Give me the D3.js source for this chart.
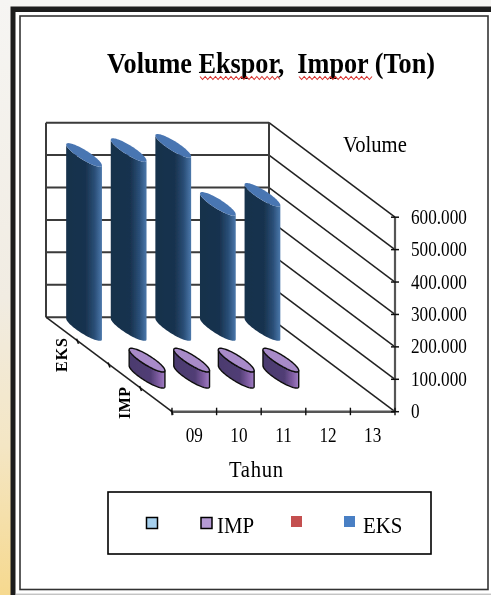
<!DOCTYPE html>
<html><head><meta charset="utf-8">
<script src="https://cdn.jsdelivr.net/npm/d3@7"></script>
<style>html,body{margin:0;padding:0;background:#fff;overflow:hidden}svg{display:block}text{font-family:"Liberation Serif",serif;fill:#000}</style>
</head><body><svg id="c" width="491" height="595"></svg>
<script>
const years=["09","10","11","12","13"];
const seriesRows=["EKS","","IMP",""];
const eksValues=[537000,552000,565000,386000,414000];
const impValues=[50000,50000,50000,50000];
const volumeTicks=[0,100000,200000,300000,400000,500000,600000];
const tickLabels=["0","100.000","200.000","300.000","400.000","500.000","600.000"];
const legendItems=[{label:"",fill:"#a6d0ee",stroke:"#000"},{label:"IMP",fill:"#b59ad4",stroke:"#000"},{label:"",fill:"#c4504f",stroke:null},{label:"EKS",fill:"#4a7fc4",stroke:null}];

const root=d3.select("#c");
const defs=root.append("defs");
function grad(id,stops,dir){const g=defs.append("linearGradient").attr("id",id);
 if(dir){g.attr("x1",dir[0]).attr("y1",dir[1]).attr("x2",dir[2]).attr("y2",dir[3]);}
 stops.forEach(s=>g.append("stop").attr("offset",s[0]).attr("stop-color",s[1]));}
grad("eksBody",[[0,"#17304b"],[0.55,"#19334f"],[0.8,"#2a4f78"],[1,"#4b78ab"]]);
grad("impBody",[[0,"#4b3a6e"],[0.6,"#513e75"],[0.85,"#8460a6"],[1,"#a07fc4"]]);
grad("bg",[[0,"#f6f5f3"],[0.5,"#f1ece2"],[0.75,"#f4e6c4"],[1,"#f6d98f"]],["0","0","0","1"]);
defs.append("filter").attr("id","soft").attr("x","0").attr("y","0").attr("width","1").attr("height","1")
 .append("feGaussianBlur").attr("stdDeviation",0.45);
const svg=root.append("g").attr("filter","url(#soft)");

// page backdrop and frames
svg.append("rect").attr("width",491).attr("height",595).attr("fill","#f6f5f3");
svg.append("rect").attr("width",11).attr("height",595).attr("fill","url(#bg)");
svg.append("rect").attr("x",10.5).attr("y",6.5).attr("width",490).attr("height",600).attr("fill","#1c1a1b");
svg.append("rect").attr("x",15.5).attr("y",12).attr("width",480).attr("height",590).attr("fill","#fff");
svg.append("path").attr("d",line0([[15.5,594.2],[491,594.2]])).attr("stroke","#aaa").attr("stroke-width",1);
svg.append("rect").attr("x",20).attr("y",16).attr("width",468).attr("height",573.5).attr("fill","#fff").attr("stroke","#333").attr("stroke-width",1.6);
function line0(p){return d3.line()(p);}

// oblique 3D projection built from scales
const xs=d3.scaleLinear().domain([0,years.length]).range([0,223]);
const dx=d3.scaleLinear().domain([0,seriesRows.length]).range([0,126]);
const dy=d3.scaleLinear().domain([0,seriesRows.length]).range([0,94.5]);
const ys=d3.scaleLinear().domain([0,600000]).range([0,194.5]);
const ox=46,oy=317.2;
const P=(u,d,v)=>[ox+xs(u)+dx(d),oy+dy(d)-ys(v)];
const line=d3.line();
const axisCol="#3a3a3a";

function T(x,y,txt,size,sx,extra){
 const t=svg.append("text").attr("transform",`translate(${x},${y}) scale(${sx},1)`).attr("font-size",size).text(txt);
 if(extra)extra(t);return t;}

// back wall
volumeTicks.forEach(v=>{
 svg.append("path").attr("d",line([P(0,0,v),P(5,0,v)])).attr("stroke",axisCol).attr("stroke-width",2).attr("fill","none");
 svg.append("path").attr("d",line([P(5,0,v),P(5,4,v)])).attr("stroke","#222").attr("stroke-width",1.5).attr("fill","none");
});
svg.append("path").attr("d",line([P(0,0,0),P(0,0,600000)])).attr("stroke",axisCol).attr("stroke-width",2);
svg.append("path").attr("d",line([P(5,0,0),P(5,0,600000)])).attr("stroke",axisCol).attr("stroke-width",2);
// floor left edge
svg.append("path").attr("d",line([P(0,0,0),P(0,4,0)])).attr("stroke","#222").attr("stroke-width",1.5);
// front axes
svg.append("path").attr("d",line([P(0,4,0),P(5,4,0)])).attr("stroke","#555").attr("stroke-width",2.6);
svg.append("path").attr("d",line([P(5,4,0),P(5,4,600000)])).attr("stroke","#555").attr("stroke-width",2.2);
d3.range(0,6).forEach(u=>{const p=P(u,4,0);svg.append("path").attr("d",line([[p[0],p[1]-4],[p[0],p[1]+3.5]])).attr("stroke","#111").attr("stroke-width",1.4);});
d3.range(1,5).forEach(d=>{const p=P(0,d,0);svg.append("path").attr("d",line([[p[0]-1,p[1]-2],[p[0]+1,p[1]+3]])).attr("stroke","#111").attr("stroke-width",1.6);});
volumeTicks.forEach((v,i)=>{const p=P(5,4,v);
 svg.append("path").attr("d",line([[p[0]-4,p[1]],[p[0]+4,p[1]]])).attr("stroke","#111").attr("stroke-width",1.5);
 T(p[0]+16,p[1]+6.5,tickLabels[i],20,0.86);
});
years.forEach((y,i)=>{const p=P(i+.5,4,0);
 T(p[0],p[1]+30.5,y,20,0.86,t=>t.attr("text-anchor","middle"));});

// cylinders
function cylinder(u,row,v,body,top,stroke){
 const cu=u+.5,cd=row+.5,ru=.19,rd=.5;
 const ring=(val,t)=>P(cu+ru*Math.cos(t),cd+rd*Math.sin(t),val);
 const tL=Math.atan2(dx(rd),xs(ru));
 const front=d3.range(0,41).map(i=>tL+Math.PI-Math.PI*i/40);
 const pts=front.map(t=>ring(0,t)).concat(front.slice().reverse().map(t=>ring(v,t)));
 svg.append("path").attr("d",line(pts)+"Z").attr("fill",body).attr("stroke",stroke||"none").attr("stroke-width",1.4);
 const topPts=d3.range(0,80).map(i=>ring(v,i/80*2*Math.PI));
 svg.append("path").attr("d",line(topPts)+"Z").attr("fill",top).attr("stroke",stroke||"none").attr("stroke-width",1.4);
}
impValues.forEach((v,i)=>cylinder(i,2,v,"url(#impBody)","#a88bc9","#111"));
eksValues.forEach((v,i)=>cylinder(i,0,v,"url(#eksBody)","#4a76b2",null));

// depth labels
[["EKS",67,372,1],["IMP",130,419,0.5]].forEach(l=>{
 svg.append("text").attr("transform",`translate(${l[1]},${l[2]}) rotate(-90)`).attr("font-size",16).attr("font-weight","bold").attr("letter-spacing",l[3]).text(l[0]);});

// titles
svg.append("text").attr("x",107).attr("y",73).attr("font-size",30).attr("font-weight","bold").attr("textLength",328).attr("lengthAdjust","spacingAndGlyphs").attr("xml:space","preserve").style("white-space","pre").text("Volume Ekspor,  Impor (Ton)");
T(343,152,"Volume",24,0.86);
T(229,477,"Tahun",24,0.86,t=>t.attr("letter-spacing",0.8));
// spell-check squiggles
function squiggle(x0,x1,y){const n=Math.round((x1-x0)/2.6);
 svg.append("path").attr("d",line(d3.range(0,n+1).map(i=>[x0+i*(x1-x0)/n,y+(i%2?1.5:-1.5)]))).attr("fill","none").attr("stroke","#d8322e").attr("stroke-width",1.1);}
squiggle(200,280,78);squiggle(299,372,78);

// legend
svg.append("rect").attr("x",108).attr("y",492).attr("width",323).attr("height",62).attr("fill","#fff").attr("stroke","#000").attr("stroke-width",1.6);
const lx=d3.scaleOrdinal().domain(d3.range(4)).range([152,206.5,296.5,349.5]);
const ly=d3.scaleOrdinal().domain(d3.range(4)).range([517.5,517.5,516,516]);
legendItems.forEach((it,i)=>{
 svg.append("rect").attr("x",lx(i)-5.5).attr("y",ly(i)).attr("width",11).attr("height",11).attr("fill",it.fill).attr("stroke",it.stroke||"none").attr("stroke-width",1.5);
 if(it.label)T(it.label==="IMP"?217:363,533,it.label,24,0.87);
});
</script></body></html>
